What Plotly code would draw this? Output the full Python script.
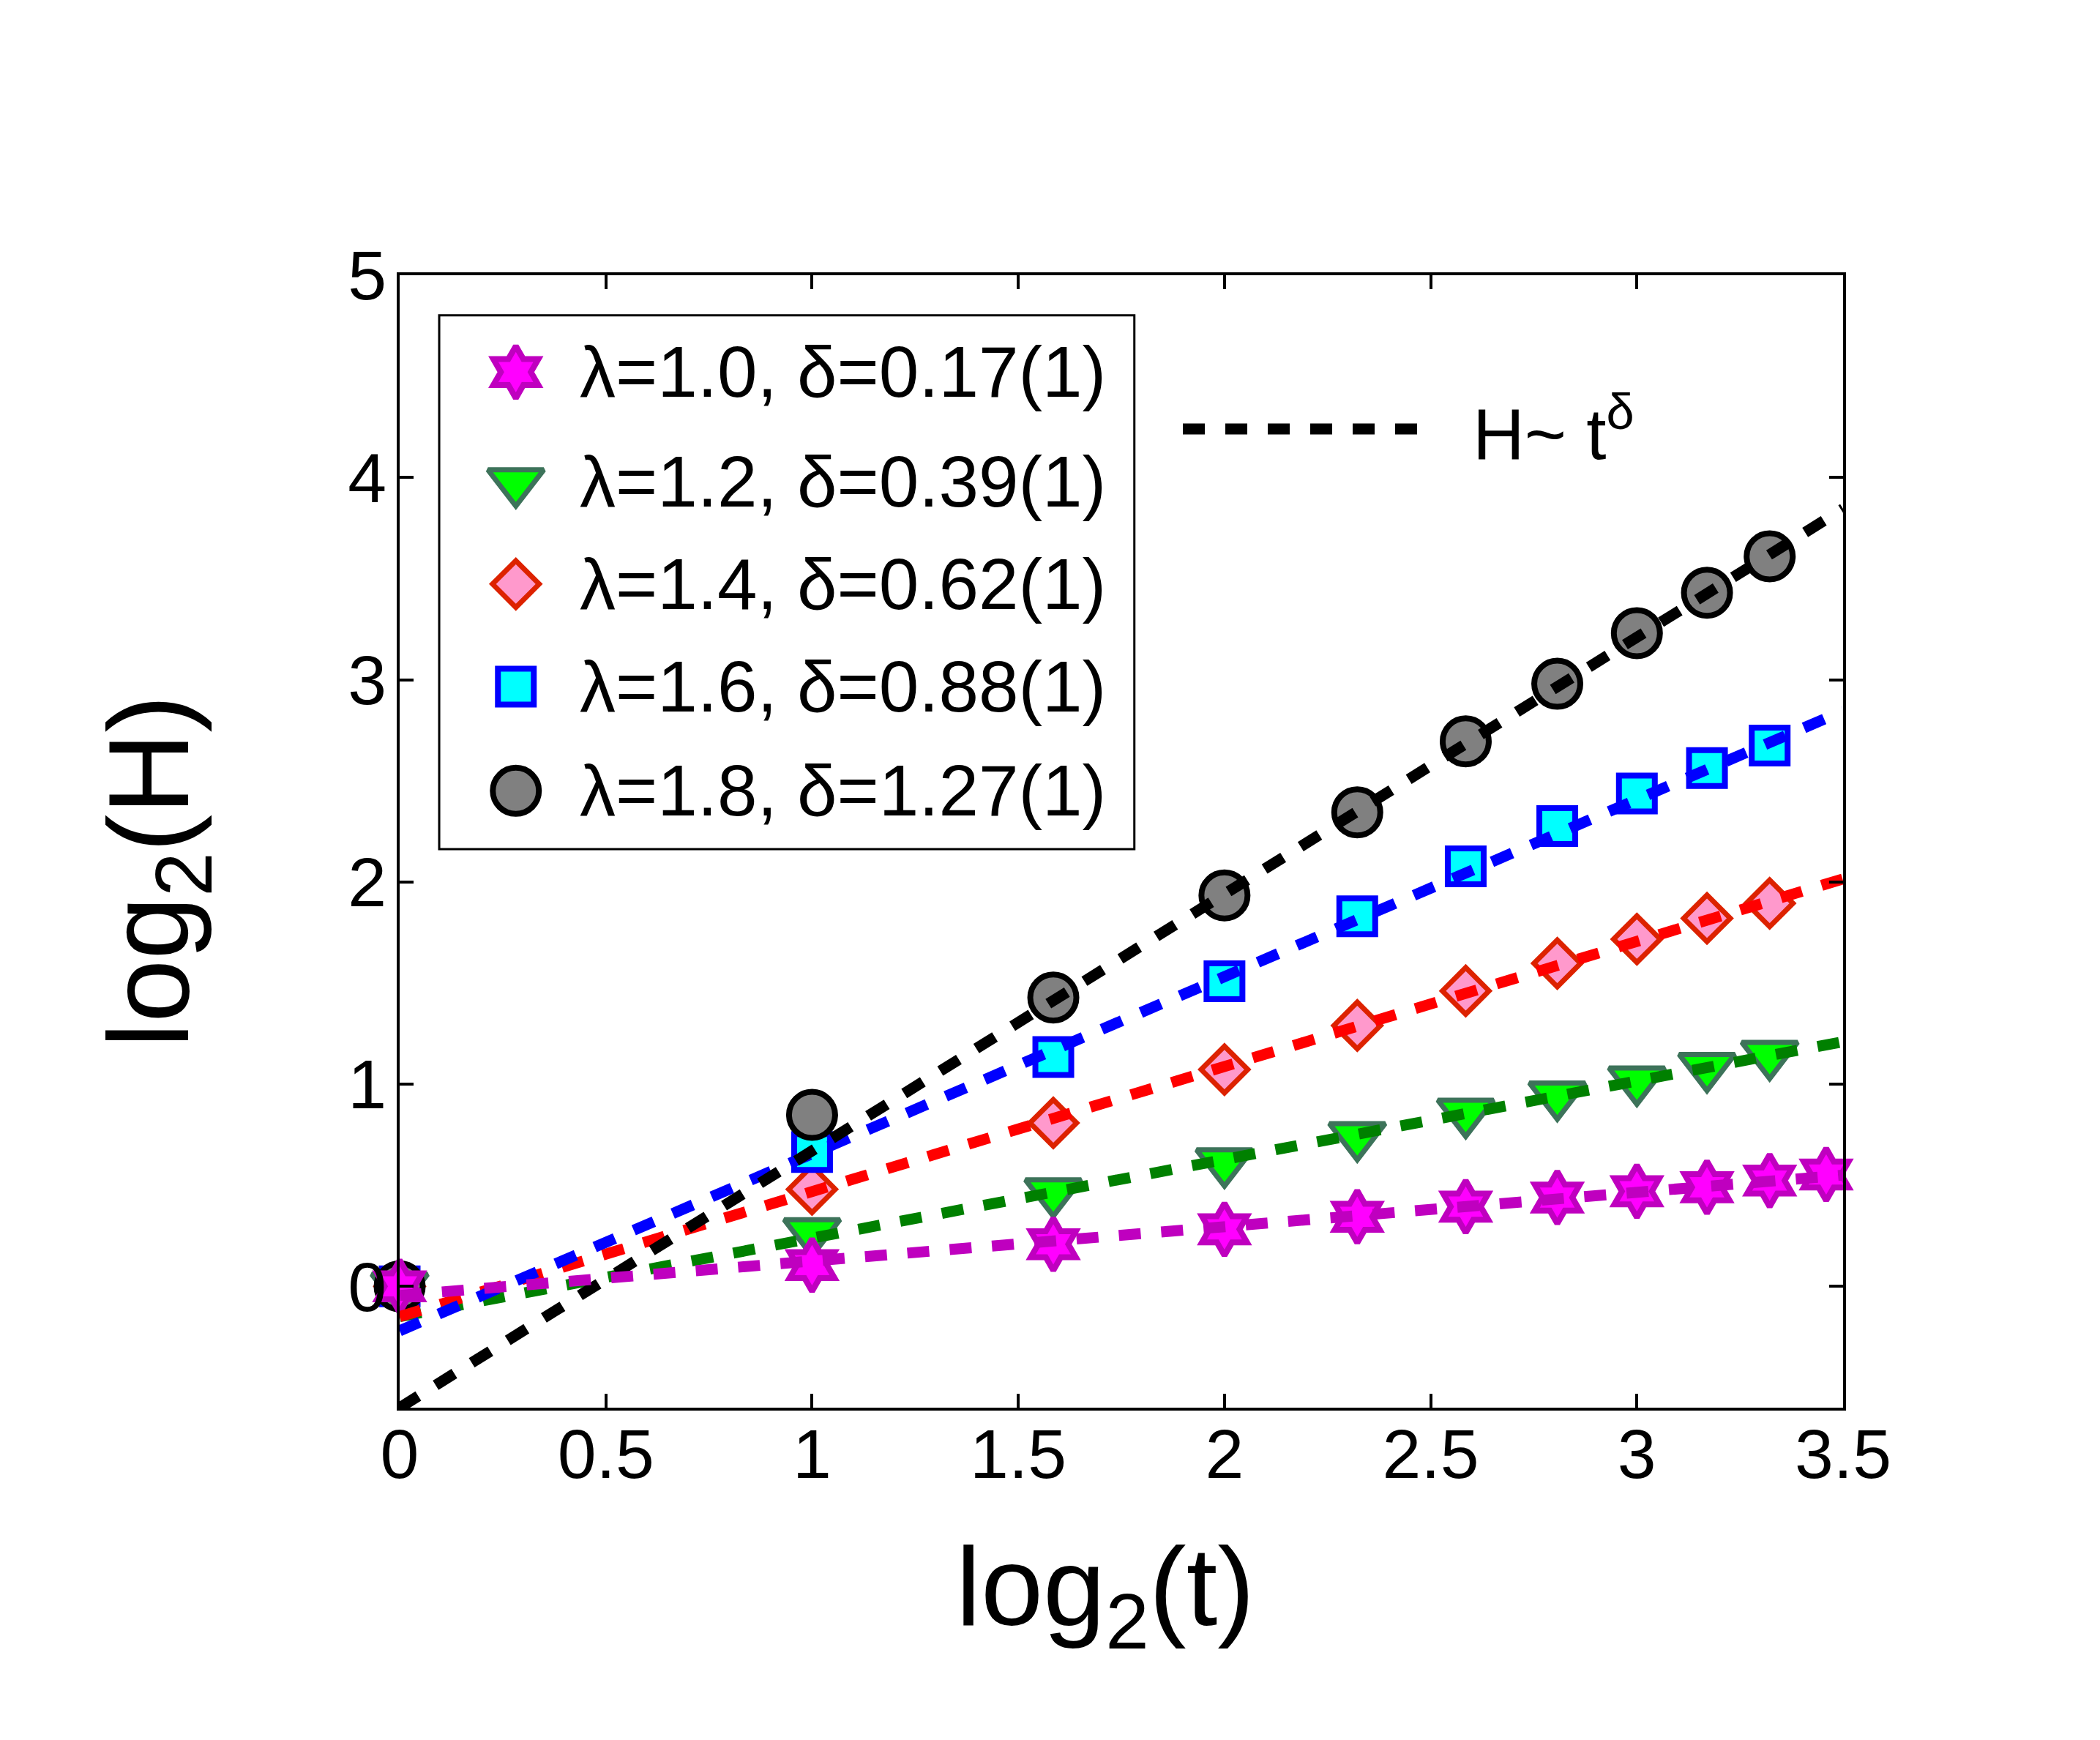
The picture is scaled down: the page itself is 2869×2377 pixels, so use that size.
import plotly.graph_objects as go

# log2(t) positions, t = 1..10 (the lambda=1.0 series goes one step further, t = 11)
log_t = [0, 1, 1.585, 2, 2.322, 2.585, 2.807, 3, 3.17, 3.322]
log_t_long = log_t + [3.459]

# log2(H)
h_10 = [0, 0.105, 0.208, 0.282, 0.344, 0.394, 0.439, 0.47, 0.49, 0.523, 0.553]
h_12 = [0, 0.27, 0.467, 0.615, 0.745, 0.861, 0.946, 1.02, 1.087, 1.147]
h_14 = [0, 0.48, 0.808, 1.072, 1.29, 1.461, 1.597, 1.717, 1.82, 1.894]
h_16 = [0, 0.664, 1.134, 1.509, 1.83, 2.077, 2.276, 2.437, 2.563, 2.674]
h_18 = [0, 0.848, 1.428, 1.933, 2.344, 2.695, 2.98, 3.23, 3.43, 3.61]

# fitted power laws H ~ t^delta, values at log2(t) = 0 and 3.5
fit_x = [0, 3.5]
fit_10 = [-0.045, 0.55]
fit_12 = [-0.15, 1.21]
fit_14 = [-0.15, 2.015]
fit_16 = [-0.22, 2.845]
fit_18 = [-0.6, 3.845]

labels = [
    "λ=1.0, δ=0.17(1)",
    "λ=1.2, δ=0.39(1)",
    "λ=1.4, δ=0.62(1)",
    "λ=1.6, δ=0.88(1)",
    "λ=1.8, δ=1.27(1)",
]

FONT = "Arial, Liberation Sans, sans-serif"
DASH = "30px,28px"

# one entry per series: x, y, fit, marker style, fit line colour
series = [
    dict(x=log_t_long, y=h_10, fit=fit_10, symbol="hexagram", size=54,
         fill="#ff00ff", edge="#bf00bf", lw=8, line="#bf00bf"),
    dict(x=log_t, y=h_12, fit=fit_12, symbol="triangle-down", size=66,
         fill="#00ff00", edge="#3d735a", lw=7, line="#008000"),
    dict(x=log_t, y=h_14, fit=fit_14, symbol="diamond", size=49,
         fill="#ff99cc", edge="#dd2200", lw=7, line="#ff0000"),
    dict(x=log_t, y=h_16, fit=fit_16, symbol="square", size=49,
         fill="#00ffff", edge="#0000ff", lw=8, line="#0000ff"),
    dict(x=log_t, y=h_18, fit=fit_18, symbol="circle", size=63,
         fill="#808080", edge="#000000", lw=8, line="#000000"),
]

fig = go.Figure()

# markers: lambda=1.0 drawn last so it sits on top at the origin
for i in [1, 2, 3, 4, 0]:
    s = series[i]
    fig.add_trace(go.Scatter(
        x=s["x"], y=s["y"], mode="markers", showlegend=False, cliponaxis=False,
        marker=dict(symbol=s["symbol"], size=s["size"], color=s["fill"],
                    line=dict(color=s["edge"], width=s["lw"])),
    ))

# dashed fit lines
for i in [1, 2, 3, 4, 0]:
    s = series[i]
    fig.add_trace(go.Scatter(
        x=fit_x, y=s["fit"], mode="lines", showlegend=False,
        line=dict(color=s["line"], width=15, dash=DASH),
    ))

# hand-made legend (plotly caps legend symbols at 16px)
leg_marker_x = 0.0805
leg_text_x = 0.1235
leg_rows = [0.9145, 0.8175, 0.7273, 0.6367, 0.5447]
for s, row, lab in zip(series, leg_rows, labels):
    fig.add_trace(go.Scatter(
        x=[leg_marker_x], y=[row], xaxis="x2", yaxis="y2", mode="markers",
        showlegend=False,
        marker=dict(symbol=s["symbol"], size=s["size"], color=s["fill"],
                    line=dict(color=s["edge"], width=s["lw"])),
    ))
    fig.add_annotation(x=leg_text_x, y=row, xref="paper", yref="paper",
                       text=lab, showarrow=False, xanchor="left", yanchor="middle",
                       font=dict(family=FONT, size=98, color="black"))

fig.add_trace(go.Scatter(
    x=[0.5426, 0.7059], y=[0.8643, 0.8643], xaxis="x2", yaxis="y2", mode="lines",
    showlegend=False, line=dict(color="black", width=15, dash=DASH),
))
fig.add_annotation(x=0.7425, y=0.8643, xref="paper", yref="paper",
                   text="H~ t<sup>δ</sup>", showarrow=False, xanchor="left",
                   yanchor="middle", font=dict(family=FONT, size=98, color="black"))

fig.add_shape(type="rect", xref="paper", yref="paper",
              x0=0.0274, x1=0.509, y0=0.4932, y1=0.9646,
              line=dict(color="black", width=3), fillcolor="white", layer="below")

# axis titles
fig.add_annotation(x=0.4888, y=-0.165, xref="paper", yref="paper",
                   text="log<sub>2</sub>(t)", showarrow=False,
                   xanchor="center", yanchor="middle",
                   font=dict(family=FONT, size=153, color="black"))
fig.add_annotation(x=-0.168, y=0.4733, xref="paper", yref="paper",
                   text="log<sub>2</sub>(H)", showarrow=False, textangle=-90,
                   xanchor="center", yanchor="middle",
                   font=dict(family=FONT, size=155, color="black"))

axis_common = dict(
    showline=True, linecolor="black", linewidth=4, mirror="ticks",
    ticks="inside", ticklen=19, tickwidth=4, tickcolor="black",
    showgrid=False, zeroline=False,
    tickfont=dict(family=FONT, size=95, color="black"),
)

fig.update_layout(
    width=2869, height=2377,
    margin=dict(l=538, r=359, t=368, b=462),
    paper_bgcolor="white", plot_bgcolor="white",
    font=dict(family=FONT, color="black"),
    xaxis=dict(range=[0, 3.5], tickvals=[0, 0.5, 1, 1.5, 2, 2.5, 3, 3.5],
               ticktext=["0", "0.5", "1", "1.5", "2", "2.5", "3", "3.5"],
               ticklabelstandoff=-22, **axis_common),
    yaxis=dict(range=[-0.6, 5], tickvals=[0, 1, 2, 3, 4, 5],
               ticktext=["0", "1", "2", "3", "4", "5"],
               ticklabelstandoff=-5, **axis_common),
    xaxis2=dict(overlaying="x", range=[0, 1], visible=False),
    yaxis2=dict(overlaying="y", range=[0, 1], visible=False),
)

fig.write_html("out.html")
